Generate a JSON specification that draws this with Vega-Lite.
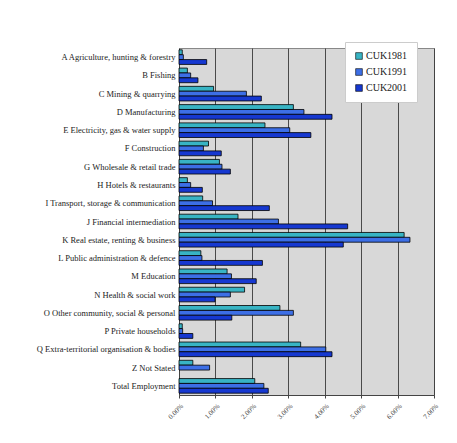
{
  "$schema": "https://vega.github.io/schema/vega-lite/v6.json",
  "width": 255,
  "height": 347,
  "autosize": {"type": "none"},
  "padding": {"left": 179, "top": 48, "right": 23, "bottom": 48},
  "background": "#ffffff",
  "data": {"values": [
    {"cat": "A Agriculture, hunting & forestry", "year": "CUK1981", "v": 0.09},
    {"cat": "A Agriculture, hunting & forestry", "year": "CUK1991", "v": 0.12},
    {"cat": "A Agriculture, hunting & forestry", "year": "CUK2001", "v": 0.76},
    {"cat": "B Fishing", "year": "CUK1981", "v": 0.23},
    {"cat": "B Fishing", "year": "CUK1991", "v": 0.32},
    {"cat": "B Fishing", "year": "CUK2001", "v": 0.52},
    {"cat": "C Mining & quarrying", "year": "CUK1981", "v": 0.95},
    {"cat": "C Mining & quarrying", "year": "CUK1991", "v": 1.85},
    {"cat": "C Mining & quarrying", "year": "CUK2001", "v": 2.26},
    {"cat": "D Manufacturing", "year": "CUK1981", "v": 3.14},
    {"cat": "D Manufacturing", "year": "CUK1991", "v": 3.43},
    {"cat": "D Manufacturing", "year": "CUK2001", "v": 4.2},
    {"cat": "E Electricity, gas & water supply", "year": "CUK1981", "v": 2.36},
    {"cat": "E Electricity, gas & water supply", "year": "CUK1991", "v": 3.04},
    {"cat": "E Electricity, gas & water supply", "year": "CUK2001", "v": 3.62},
    {"cat": "F Construction", "year": "CUK1981", "v": 0.81},
    {"cat": "F Construction", "year": "CUK1991", "v": 0.67},
    {"cat": "F Construction", "year": "CUK2001", "v": 1.16},
    {"cat": "G Wholesale & retail trade", "year": "CUK1981", "v": 1.11},
    {"cat": "G Wholesale & retail trade", "year": "CUK1991", "v": 1.18},
    {"cat": "G Wholesale & retail trade", "year": "CUK2001", "v": 1.41},
    {"cat": "H Hotels & restaurants", "year": "CUK1981", "v": 0.23},
    {"cat": "H Hotels & restaurants", "year": "CUK1991", "v": 0.32},
    {"cat": "H Hotels & restaurants", "year": "CUK2001", "v": 0.64},
    {"cat": "I Transport, storage & communication", "year": "CUK1981", "v": 0.65},
    {"cat": "I Transport, storage & communication", "year": "CUK1991", "v": 0.92},
    {"cat": "I Transport, storage & communication", "year": "CUK2001", "v": 2.48},
    {"cat": "J Financial intermediation", "year": "CUK1981", "v": 1.62},
    {"cat": "J Financial intermediation", "year": "CUK1991", "v": 2.73},
    {"cat": "J Financial intermediation", "year": "CUK2001", "v": 4.63},
    {"cat": "K Real estate, renting & business", "year": "CUK1981", "v": 6.18},
    {"cat": "K Real estate, renting & business", "year": "CUK1991", "v": 6.34},
    {"cat": "K Real estate, renting & business", "year": "CUK2001", "v": 4.51},
    {"cat": "L Public administration & defence", "year": "CUK1981", "v": 0.6},
    {"cat": "L Public administration & defence", "year": "CUK1991", "v": 0.63},
    {"cat": "L Public administration & defence", "year": "CUK2001", "v": 2.29},
    {"cat": "M Education", "year": "CUK1981", "v": 1.32},
    {"cat": "M Education", "year": "CUK1991", "v": 1.44},
    {"cat": "M Education", "year": "CUK2001", "v": 2.12},
    {"cat": "N Health & social work", "year": "CUK1981", "v": 1.8},
    {"cat": "N Health & social work", "year": "CUK1991", "v": 1.41},
    {"cat": "N Health & social work", "year": "CUK2001", "v": 0.99},
    {"cat": "O Other community, social & personal", "year": "CUK1981", "v": 2.77},
    {"cat": "O Other community, social & personal", "year": "CUK1991", "v": 3.14},
    {"cat": "O Other community, social & personal", "year": "CUK2001", "v": 1.45},
    {"cat": "P Private households", "year": "CUK1981", "v": 0.09},
    {"cat": "P Private households", "year": "CUK1991", "v": 0.1},
    {"cat": "P Private households", "year": "CUK2001", "v": 0.38},
    {"cat": "Q Extra-territorial organisation & bodies", "year": "CUK1981", "v": 3.34},
    {"cat": "Q Extra-territorial organisation & bodies", "year": "CUK1991", "v": 4.03},
    {"cat": "Q Extra-territorial organisation & bodies", "year": "CUK2001", "v": 4.2},
    {"cat": "Z Not Stated", "year": "CUK1981", "v": 0.38},
    {"cat": "Z Not Stated", "year": "CUK1991", "v": 0.84},
    {"cat": "Total Employment", "year": "CUK1981", "v": 2.08},
    {"cat": "Total Employment", "year": "CUK1991", "v": 2.33},
    {"cat": "Total Employment", "year": "CUK2001", "v": 2.45}
  ]},
  "config": {
    "view": {"fill": "#d8d8d8", "stroke": "#888888", "strokeWidth": 1},
    "font": "Liberation Serif"
  },
  "mark": {"type": "bar", "stroke": "#000000", "strokeWidth": 0.8},
  "encoding": {
    "y": {
      "field": "cat", "type": "nominal", "sort": null, "title": null,
      "scale": {"paddingInner": 0.2, "paddingOuter": 0.1},
      "axis": {"labelFont": "Liberation Serif", "labelFontSize": 8.5, "labelColor": "#222222", "labelLimit": 180, "ticks": false, "domain": false, "labelPadding": 4}
    },
    "yOffset": {"field": "year", "type": "nominal", "sort": ["CUK1981", "CUK1991", "CUK2001"]},
    "x": {
      "field": "v", "type": "quantitative", "title": null,
      "scale": {"domain": [0, 7], "nice": false},
      "axis": {"values": [0, 1, 2, 3, 4, 5, 6, 7], "labelExpr": "format(datum.value, '.2f') + '%'", "labelAngle": -45, "labelFont": "Liberation Serif", "labelFontSize": 7, "labelColor": "#444444", "grid": true, "gridColor": "#3a3a3a", "gridWidth": 0.9, "domainColor": "#444444", "tickColor": "#444444", "tickSize": 3, "labelPadding": 4}
    },
    "color": {
      "field": "year", "type": "nominal", "title": null,
      "scale": {"domain": ["CUK1981", "CUK1991", "CUK2001"], "range": ["#38b4c4", "#3d6fe6", "#1638d0"]},
      "legend": {"orient": "none", "legendX": 166, "legendY": -6, "fillColor": "#ffffff", "strokeColor": "#cccccc", "padding": 9, "symbolType": "square", "symbolSize": 45, "symbolStrokeColor": "#000000", "symbolStrokeWidth": 0.6, "labelFont": "Liberation Serif", "labelFontSize": 10, "labelColor": "#222222", "rowPadding": 6, "labelOffset": 2, "symbolOpacity": 1}
    }
  }
}
